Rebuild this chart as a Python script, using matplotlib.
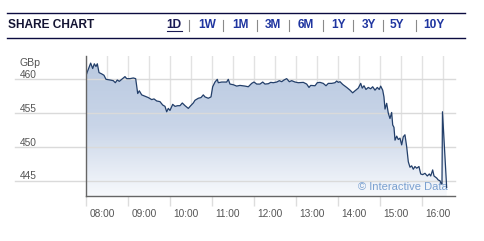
import numpy as np
import matplotlib
matplotlib.use('Agg')
import matplotlib.pyplot as plt
from matplotlib import transforms
from matplotlib.patches import Polygon
from matplotlib.colors import LinearSegmentedColormap

# minutes after 08:00 and price in GBp
minutes = [0.0, 2.3, 7.1, 10.0, 12.3, 14.7, 16.6, 19.0, 22.9, 26.1, 29.0, 34.7, 39.4, 42.3,
           45.1, 48.0, 51.4, 56.1, 58.6, 63.3, 68.0, 71.4, 72.9, 74.3, 76.6, 80.0, 84.7,
           89.4, 94.3, 97.6, 101.4, 106.1, 110.0, 113.3, 115.7, 118.0, 120.4, 124.3,
           127.6, 131.4, 134.7, 138.0, 141.9, 146.6, 150.0, 153.7, 156.1, 160.9, 164.7,
           168.0, 170.4, 175.1, 179.0, 181.4, 184.7, 188.0, 189.4, 194.3, 199.0, 201.4,
           203.7, 206.1, 210.9, 215.7, 220.4, 227.6, 232.3, 237.1, 240.4, 244.3, 249.0,
           252.9, 256.1, 260.9, 264.3, 268.0, 272.9, 276.6, 280.0, 283.3, 287.1, 290.9,
           294.3, 299.0, 303.7, 310.9, 315.7, 319.0, 321.4, 327.6, 330.9, 334.7, 339.4,
           343.3, 346.6, 351.4, 356.1, 358.6, 360.9, 363.3, 367.1, 372.9, 377.6, 381.4,
           384.7, 389.4, 392.9, 395.1, 397.6, 400.4, 403.7, 407.1, 410.0, 413.3, 416.6,
           419.4, 421.4, 424.3, 426.1, 427.6, 430.0, 432.3, 434.7, 437.1, 438.6, 440.4,
           441.9, 444.3, 446.6, 449.0, 451.4, 453.7, 456.1, 458.6, 460.9, 463.3, 465.7,
           468.0, 470.4, 472.9, 476.1, 478.6, 481.4, 484.7, 488.0, 490.9, 492.9, 495.7,
           497.6, 501.4, 503.7, 506.1, 507.6, 509.0, 509.7, 515.7]
prices = [460.4, 461.1, 462.4, 461.6, 462.3, 461.9, 462.3, 461.0, 460.8, 460.6, 460.0, 459.9,
          459.8, 459.5, 459.9, 459.7, 460.0, 460.4, 460.1, 460.1, 460.2, 460.1, 458.9, 457.9,
          458.3, 457.7, 457.5, 457.3, 457.0, 457.1, 456.8, 456.7, 456.2, 456.0, 455.2, 455.7,
          455.4, 456.3, 456.0, 456.1, 456.1, 456.5, 456.1, 455.7, 456.1, 456.5, 456.9, 457.2,
          457.3, 457.7, 457.4, 457.2, 457.4, 458.9, 459.6, 460.0, 459.5, 459.6, 459.6, 459.6,
          460.0, 459.3, 459.2, 459.0, 459.1, 459.0, 458.9, 459.4, 459.6, 459.3, 459.3, 459.6,
          459.3, 459.35, 459.55, 459.5, 459.6, 459.8, 459.65, 459.9, 460.1, 459.65, 459.8,
          459.6, 459.5, 459.55, 459.3, 458.8, 459.1, 459.05, 459.5, 459.55, 459.4, 459.05,
          459.4, 459.4, 459.5, 459.75, 459.55, 459.65, 459.25, 458.8, 458.4, 458.0, 458.3,
          458.7, 459.4, 458.7, 459.05, 458.5, 458.8, 458.6, 458.9, 458.4, 458.8, 458.5, 459.0,
          458.4, 457.4, 455.6, 456.45, 455.0, 454.2, 455.1, 453.25, 452.9, 451.0, 451.6, 451.1,
          451.3, 450.3, 451.5, 451.8, 450.0, 447.8, 447.0, 447.2, 446.7, 447.1, 446.85, 447.1,
          446.0, 445.9, 446.1, 445.7, 446.0, 445.7, 446.6, 445.7, 445.4, 445.1, 445.0, 444.6,
          444.5, 455.2, 444.0]

hour_labels = ['08:00', '09:00', '10:00', '11:00', '12:00', '13:00', '14:00', '15:00', '16:00']
y_ticks = [445, 450, 455, 460]
tabs = ['1D', '1W', '1M', '3M', '6M', '1Y', '3Y', '5Y', '10Y']

plt.rcParams['font.family'] = ['Liberation Sans', 'DejaVu Sans']

W, H = 484, 241
fig = plt.figure(figsize=(W / 100, H / 100), dpi=100)

# header
navy = '#0b0b40'
fig.add_artist(plt.Line2D([7 / W, 465 / W], [1 - 13.3 / H, 1 - 13.3 / H], color=navy, lw=1.0))
fig.add_artist(plt.Line2D([7 / W, 465 / W], [1 - 38.3 / H, 1 - 38.3 / H], color=navy, lw=1.0))
fig.text(8.3 / W, 1 - 25 / H, 'SHARE CHART', fontsize=8.6, fontweight='bold', color='#141433',
         ha='left', va='center')
tab_x = [174.3, 206.8, 240.3, 273.0, 306.2, 338.0, 368.8, 397.2, 434.2]
sep_x = [189.3, 222.7, 256.7, 289.3, 322.7, 353.3, 382.7, 416.0]
for i, t in enumerate(tabs):
    fig.text(tab_x[i] / W, 1 - 25 / H, t, fontsize=8.6, fontweight='bold',
             color='#1a1a55' if i == 0 else '#1f35a0', ha='center', va='center')
for sx in sep_x:
    fig.add_artist(plt.Line2D([sx / W, sx / W], [1 - 19.5 / H, 1 - 30.5 / H], color='#8a8a8a', lw=0.8))
fig.add_artist(plt.Line2D([167 / W, 182 / W], [1 - 31 / H, 1 - 31 / H], color='#1a1a55', lw=0.8))

# chart
ax = fig.add_axes([85.7 / W, 1 - 196 / H, 369.3 / W, 140 / H])
x0, x1 = 0, 527.6
y0, y1 = 442.74, 463.45
ax.set_xlim(x0, x1)
ax.set_ylim(y0, y1)

cmap = LinearSegmentedColormap.from_list('fade', ['#b9c9e0', '#c9d5e8', '#f7f9fc'])
grad = np.linspace(0, 1, 256).reshape(-1, 1)
im = ax.imshow(grad, extent=[x0, x1, y0, y1], aspect='auto', cmap=cmap, origin='upper', zorder=1)
verts = list(zip(minutes, prices)) + [(minutes[-1], y0), (minutes[0], y0)]
poly = Polygon(verts, closed=True, facecolor='none', edgecolor='none')
ax.add_patch(poly)
im.set_clip_path(poly)

ax.plot(minutes, prices, color='#233f6a', lw=0.9, zorder=4)

# grid
ax.set_xticks([h * 60 for h in range(len(hour_labels))])
ax.set_xticks(np.arange(30, 540, 60), minor=True)
ax.tick_params(axis='x', which='major', direction='out', length=7, color='#dddddd', width=1,
               labelbottom=False)
ax.tick_params(axis='x', which='minor', length=0)
ax.tick_params(axis='y', length=0, labelleft=False)
ax.set_yticks(y_ticks)
ax.grid(True, axis='x', which='both', color='#e2e2e2', lw=1, zorder=0)
for v in y_ticks:
    ax.plot([-0.191, 1], [v, v], transform=ax.get_yaxis_transform(), color='#dadada', lw=1,
            clip_on=False, zorder=2)
ax.set_axisbelow(True)

for s in ['top', 'right']:
    ax.spines[s].set_visible(False)
for s in ['left', 'bottom']:
    ax.spines[s].set_color('#666666')
    ax.spines[s].set_linewidth(1.0)
    ax.spines[s].set_zorder(5)

# labels
ytr = transforms.offset_copy(ax.get_yaxis_transform(), fig=fig, x=0, y=1.3, units='dots')
for v in y_ticks:
    ax.text(-0.178, v, str(v), transform=ytr, fontsize=7.3, color='#555555',
            ha='left', va='baseline')
ax.text(-0.178, 1, 'GBp', transform=transforms.offset_copy(ax.transAxes, fig=fig, x=0, y=-9.5,
        units='dots'), fontsize=7.6, color='#555555', ha='left', va='baseline')

xtr = transforms.offset_copy(ax.get_xaxis_transform(), fig=fig, x=4, y=-21.3, units='dots')
for i, lab in enumerate(hour_labels):
    ax.text(i * 60, 0, lab, transform=xtr, fontsize=7.3, color='#555555',
            ha='left', va='baseline')

ax.text(0.981, 0.043, '\u00a9 Interactive Data', transform=ax.transAxes, fontsize=8,
        color='#7aa0d0', ha='right', va='baseline', zorder=3)

fig.savefig('out.png', dpi=100)
